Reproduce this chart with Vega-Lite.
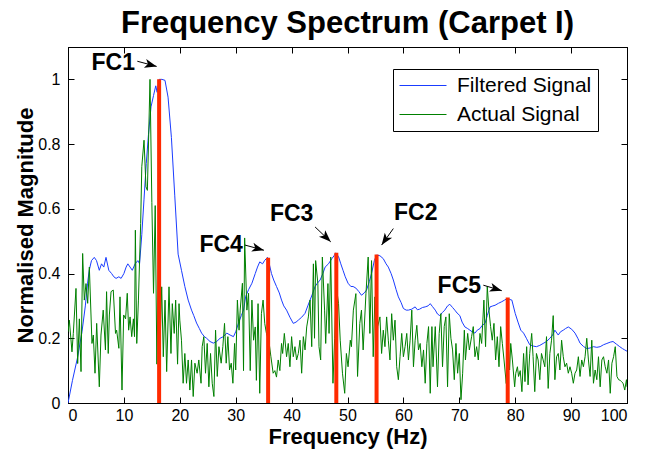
{
"$schema":"https://vega.github.io/schema/vega-lite/v6.json",
"width":559,"height":356,
"autosize":"none",
"padding":{"left":68,"top":47,"right":30,"bottom":53},
"background":"white",
"config":{"font":"Liberation Sans","view":{"stroke":"black","strokeWidth":1},
"axis":{"domainColor":"black","tickColor":"black","labelColor":"black","titleColor":"black","labelFont":"Liberation Sans","titleFont":"Liberation Sans","labelFontSize":16,"titleFontSize":22,"titleFontWeight":"bold","tickSize":-6,"grid":false,"domainWidth":1,"tickWidth":1}},
"title":{"text":"Frequency Spectrum (Carpet I)","fontSize":31,"fontWeight":"bold","color":"black","font":"Liberation Sans","offset":7,"anchor":"middle"},
"datasets":{
"filtered":[{"f":0,"v":0},{"f":0.8,"v":0.07},{"f":1.7,"v":0.14},{"f":2.5,"v":0.22},{"f":3.1,"v":0.3},{"f":3.5,"v":0.37},{"f":3.8,"v":0.41},{"f":4.2,"v":0.44},{"f":4.7,"v":0.45},{"f":5.1,"v":0.44},{"f":5.6,"v":0.41},{"f":6.0,"v":0.43},{"f":6.4,"v":0.42},{"f":6.8,"v":0.45},{"f":7.3,"v":0.41},{"f":7.8,"v":0.4},{"f":8.2,"v":0.39},{"f":8.6,"v":0.385},{"f":9.1,"v":0.39},{"f":9.5,"v":0.385},{"f":10.0,"v":0.4},{"f":10.4,"v":0.42},{"f":10.7,"v":0.43},{"f":11.1,"v":0.42},{"f":11.5,"v":0.41},{"f":12.0,"v":0.43},{"f":12.5,"v":0.44},{"f":12.8,"v":0.43},{"f":13.2,"v":0.52},{"f":13.6,"v":0.63},{"f":14.0,"v":0.74},{"f":14.4,"v":0.83},{"f":14.85,"v":0.915},{"f":15.3,"v":0.95},{"f":15.7,"v":0.98},{"f":15.95,"v":0.96},{"f":16.3,"v":1.0},{"f":16.8,"v":1.0},{"f":17.35,"v":0.997},{"f":17.9,"v":0.945},{"f":18.5,"v":0.82},{"f":19.1,"v":0.64},{"f":19.7,"v":0.46},{"f":20.3,"v":0.41},{"f":20.9,"v":0.36},{"f":21.5,"v":0.318},{"f":22.1,"v":0.287},{"f":22.5,"v":0.27},{"f":23.0,"v":0.247},{"f":23.5,"v":0.23},{"f":23.9,"v":0.216},{"f":24.4,"v":0.205},{"f":24.8,"v":0.2},{"f":25.4,"v":0.19},{"f":26.0,"v":0.185},{"f":26.6,"v":0.19},{"f":27.2,"v":0.2},{"f":27.8,"v":0.205},{"f":28.4,"v":0.216},{"f":29.0,"v":0.21},{"f":29.6,"v":0.205},{"f":30.0,"v":0.22},{"f":30.5,"v":0.247},{"f":31.0,"v":0.27},{"f":31.4,"v":0.287},{"f":31.8,"v":0.33},{"f":32.3,"v":0.35},{"f":32.9,"v":0.37},{"f":33.5,"v":0.4},{"f":33.9,"v":0.42},{"f":34.3,"v":0.436},{"f":34.8,"v":0.43},{"f":35.2,"v":0.441},{"f":35.7,"v":0.45},{"f":36.0,"v":0.43},{"f":36.4,"v":0.4},{"f":36.8,"v":0.38},{"f":37.3,"v":0.36},{"f":37.8,"v":0.34},{"f":38.2,"v":0.318},{"f":38.6,"v":0.3},{"f":39.1,"v":0.287},{"f":39.7,"v":0.265},{"f":40.3,"v":0.246},{"f":40.8,"v":0.25},{"f":41.2,"v":0.256},{"f":41.8,"v":0.265},{"f":42.4,"v":0.277},{"f":42.9,"v":0.3},{"f":43.3,"v":0.318},{"f":43.8,"v":0.34},{"f":44.2,"v":0.36},{"f":44.6,"v":0.37},{"f":45.1,"v":0.38},{"f":45.6,"v":0.4},{"f":46.0,"v":0.42},{"f":46.6,"v":0.43},{"f":47.2,"v":0.446},{"f":47.6,"v":0.455},{"f":47.9,"v":0.464},{"f":48.4,"v":0.452},{"f":48.8,"v":0.43},{"f":49.2,"v":0.41},{"f":49.6,"v":0.39},{"f":50.1,"v":0.37},{"f":50.6,"v":0.36},{"f":51.0,"v":0.36},{"f":51.5,"v":0.355},{"f":52.0,"v":0.345},{"f":52.5,"v":0.333},{"f":53.0,"v":0.34},{"f":53.4,"v":0.349},{"f":53.9,"v":0.375},{"f":54.3,"v":0.4},{"f":54.8,"v":0.44},{"f":55.2,"v":0.457},{"f":55.8,"v":0.455},{"f":56.4,"v":0.446},{"f":56.9,"v":0.43},{"f":57.3,"v":0.42},{"f":57.8,"v":0.4},{"f":58.2,"v":0.38},{"f":58.7,"v":0.35},{"f":59.1,"v":0.328},{"f":59.6,"v":0.31},{"f":60.0,"v":0.292},{"f":60.5,"v":0.287},{"f":60.9,"v":0.287},{"f":61.5,"v":0.29},{"f":62.1,"v":0.297},{"f":62.5,"v":0.288},{"f":62.9,"v":0.29},{"f":63.4,"v":0.295},{"f":63.9,"v":0.297},{"f":64.4,"v":0.3},{"f":64.8,"v":0.307},{"f":65.2,"v":0.298},{"f":65.7,"v":0.287},{"f":66.1,"v":0.275},{"f":66.5,"v":0.27},{"f":67.0,"v":0.28},{"f":67.4,"v":0.287},{"f":67.9,"v":0.3},{"f":68.3,"v":0.305},{"f":68.8,"v":0.295},{"f":69.2,"v":0.287},{"f":69.6,"v":0.278},{"f":70.1,"v":0.27},{"f":70.5,"v":0.25},{"f":71.0,"v":0.235},{"f":71.5,"v":0.23},{"f":71.9,"v":0.225},{"f":72.3,"v":0.22},{"f":72.8,"v":0.216},{"f":73.2,"v":0.225},{"f":73.7,"v":0.23},{"f":74.1,"v":0.24},{"f":74.6,"v":0.246},{"f":75.0,"v":0.27},{"f":75.5,"v":0.297},{"f":76.0,"v":0.3},{"f":76.4,"v":0.302},{"f":77.0,"v":0.308},{"f":77.6,"v":0.313},{"f":78.1,"v":0.318},{"f":78.6,"v":0.323},{"f":79.0,"v":0.32},{"f":79.4,"v":0.318},{"f":80.0,"v":0.277},{"f":80.5,"v":0.25},{"f":81.0,"v":0.225},{"f":81.5,"v":0.216},{"f":82.0,"v":0.2},{"f":82.6,"v":0.18},{"f":83.2,"v":0.176},{"f":83.8,"v":0.174},{"f":84.4,"v":0.178},{"f":85.0,"v":0.184},{"f":85.6,"v":0.19},{"f":86.2,"v":0.2},{"f":86.7,"v":0.21},{"f":87.1,"v":0.225},{"f":87.7,"v":0.21},{"f":88.1,"v":0.22},{"f":88.6,"v":0.225},{"f":89.0,"v":0.23},{"f":89.5,"v":0.235},{"f":90.1,"v":0.228},{"f":90.7,"v":0.216},{"f":91.2,"v":0.2},{"f":91.6,"v":0.185},{"f":92.2,"v":0.175},{"f":92.8,"v":0.168},{"f":93.4,"v":0.17},{"f":94.0,"v":0.174},{"f":94.6,"v":0.172},{"f":95.2,"v":0.174},{"f":95.8,"v":0.18},{"f":96.4,"v":0.184},{"f":97.0,"v":0.188},{"f":97.5,"v":0.19},{"f":98.1,"v":0.182},{"f":98.7,"v":0.174},{"f":99.2,"v":0.168},{"f":99.6,"v":0.164},{"f":100,"v":0.16}],
"actual":[{"f":0,"v":0.22},{"f":0.24,"v":0.256},{"f":0.71,"v":0.158},{"f":0.95,"v":0.215},{"f":1.43,"v":0.354},{"f":1.73,"v":0.122},{"f":2.03,"v":0.26},{"f":2.33,"v":0.097},{"f":2.62,"v":0.462},{"f":2.92,"v":0.318},{"f":3.22,"v":0.369},{"f":3.52,"v":0.308},{"f":3.82,"v":0.42},{"f":4.29,"v":0.184},{"f":4.53,"v":0.21},{"f":4.83,"v":0.092},{"f":5.13,"v":0.246},{"f":5.6,"v":0.05},{"f":5.9,"v":0.21},{"f":6.3,"v":0.287},{"f":6.7,"v":0.164},{"f":6.9,"v":0.344},{"f":7.2,"v":0.153},{"f":7.4,"v":0.272},{"f":7.7,"v":0.344},{"f":8.1,"v":0.349},{"f":8.5,"v":0.215},{"f":8.7,"v":0.225},{"f":9.1,"v":0.169},{"f":9.3,"v":0.328},{"f":9.66,"v":0.04},{"f":9.96,"v":0.272},{"f":10.3,"v":0.26},{"f":10.6,"v":0.339},{"f":10.85,"v":0.225},{"f":11.1,"v":0.266},{"f":11.4,"v":0.205},{"f":11.7,"v":0.26},{"f":11.9,"v":0.205},{"f":12.05,"v":0.534},{"f":12.3,"v":0.184},{"f":12.6,"v":0.318},{"f":13.0,"v":0.555},{"f":13.2,"v":0.73},{"f":13.6,"v":0.812},{"f":13.95,"v":0.668},{"f":14.2,"v":0.657},{"f":14.67,"v":1.0},{"f":15.0,"v":0.62},{"f":15.3,"v":0.339},{"f":15.6,"v":0.61},{"f":15.9,"v":0.12},{"f":16.2,"v":0.45},{"f":16.5,"v":0.2},{"f":16.76,"v":0.359},{"f":17.05,"v":0.143},{"f":17.36,"v":0.318},{"f":17.65,"v":0.097},{"f":18.07,"v":0.359},{"f":18.42,"v":0.153},{"f":18.66,"v":0.307},{"f":19.0,"v":0.215},{"f":19.26,"v":0.318},{"f":19.6,"v":0.12},{"f":19.86,"v":0.307},{"f":20.0,"v":0.256},{"f":20.3,"v":0.194},{"f":20.6,"v":0.061},{"f":20.9,"v":0.153},{"f":21.2,"v":0.061},{"f":21.5,"v":0.133},{"f":21.8,"v":0.04},{"f":22.1,"v":0.133},{"f":22.4,"v":0.02},{"f":22.7,"v":0.123},{"f":23.1,"v":0.092},{"f":23.4,"v":0.133},{"f":23.8,"v":0.061},{"f":24.0,"v":0.174},{"f":24.3,"v":0.205},{"f":24.6,"v":0.092},{"f":24.9,"v":0.184},{"f":25.2,"v":0.05},{"f":25.5,"v":0.153},{"f":25.8,"v":0.061},{"f":26.1,"v":0.02},{"f":26.4,"v":0.225},{"f":26.7,"v":0.082},{"f":27.0,"v":0.174},{"f":27.4,"v":0.123},{"f":27.7,"v":0.174},{"f":28.0,"v":0.246},{"f":28.3,"v":0.123},{"f":28.6,"v":0.205},{"f":28.9,"v":0.102},{"f":29.2,"v":0.123},{"f":29.5,"v":0.061},{"f":29.8,"v":0.184},{"f":30.0,"v":0.102},{"f":30.3,"v":0.318},{"f":30.6,"v":0.225},{"f":30.8,"v":0.287},{"f":31.2,"v":0.37},{"f":31.4,"v":0.1},{"f":31.6,"v":0.51},{"f":32.0,"v":0.287},{"f":32.3,"v":0.339},{"f":32.6,"v":0.1},{"f":32.9,"v":0.318},{"f":33.2,"v":0.194},{"f":33.5,"v":0.235},{"f":33.7,"v":0.07},{"f":34.0,"v":0.307},{"f":34.3,"v":0.03},{"f":34.6,"v":0.276},{"f":34.9,"v":0.318},{"f":35.2,"v":0.245},{"f":35.5,"v":0.215},{"f":35.95,"v":0.19},{"f":36.3,"v":0.143},{"f":36.7,"v":0.092},{"f":37.0,"v":0.1},{"f":37.3,"v":0.08},{"f":37.6,"v":0.133},{"f":37.9,"v":0.1},{"f":38.2,"v":0.184},{"f":38.4,"v":0.153},{"f":38.7,"v":0.215},{"f":39.1,"v":0.143},{"f":39.4,"v":0.184},{"f":39.7,"v":0.112},{"f":40.0,"v":0.205},{"f":40.3,"v":0.143},{"f":40.6,"v":0.174},{"f":40.9,"v":0.133},{"f":41.2,"v":0.153},{"f":41.5,"v":0.194},{"f":41.8,"v":0.092},{"f":42.1,"v":0.205},{"f":42.4,"v":0.164},{"f":42.7,"v":0.235},{"f":43.0,"v":0.266},{"f":43.3,"v":0.318},{"f":43.6,"v":0.174},{"f":43.9,"v":0.43},{"f":44.1,"v":0.2},{"f":44.3,"v":0.44},{"f":44.7,"v":0.369},{"f":44.9,"v":0.174},{"f":45.2,"v":0.133},{"f":45.5,"v":0.451},{"f":45.9,"v":0.287},{"f":46.1,"v":0.184},{"f":46.5,"v":0.369},{"f":46.7,"v":0.215},{"f":47.0,"v":0.451},{"f":47.4,"v":0.061},{"f":47.7,"v":0.2},{"f":48.0,"v":0.36},{"f":48.4,"v":0.307},{"f":48.7,"v":0.194},{"f":49.1,"v":0.092},{"f":49.5,"v":0.03},{"f":49.8,"v":0.153},{"f":50.1,"v":0.112},{"f":50.5,"v":0.194},{"f":50.7,"v":0.174},{"f":51.05,"v":0.287},{"f":51.5,"v":0.338},{"f":51.8,"v":0.082},{"f":52.2,"v":0.246},{"f":52.5,"v":0.287},{"f":52.8,"v":0.164},{"f":53.3,"v":0.338},{"f":53.7,"v":0.451},{"f":54.0,"v":0.215},{"f":54.3,"v":0.44},{"f":54.6,"v":0.143},{"f":54.9,"v":0.328},{"f":55.2,"v":0.1},{"f":55.4,"v":0.236},{"f":55.8,"v":0.266},{"f":56.1,"v":0.153},{"f":56.4,"v":0.225},{"f":56.7,"v":0.174},{"f":57.0,"v":0.266},{"f":57.3,"v":0.194},{"f":57.6,"v":0.133},{"f":57.9,"v":0.276},{"f":58.2,"v":0.194},{"f":58.5,"v":0.256},{"f":58.8,"v":0.112},{"f":59.1,"v":0.072},{"f":59.4,"v":0.143},{"f":59.7,"v":0.215},{"f":60.0,"v":0.143},{"f":60.3,"v":0.174},{"f":60.6,"v":0.215},{"f":60.9,"v":0.133},{"f":61.2,"v":0.194},{"f":61.5,"v":0.287},{"f":61.8,"v":0.112},{"f":62.1,"v":0.194},{"f":62.4,"v":0.24},{"f":62.7,"v":0.164},{"f":63.0,"v":0.184},{"f":63.3,"v":0.112},{"f":63.6,"v":0.164},{"f":63.9,"v":0.061},{"f":64.2,"v":0.184},{"f":64.5,"v":0.236},{"f":64.8,"v":0.03},{"f":65.1,"v":0.236},{"f":65.3,"v":0.112},{"f":65.7,"v":0.236},{"f":66.1,"v":0.05},{"f":66.4,"v":0.215},{"f":66.7,"v":0.276},{"f":67.0,"v":0.112},{"f":67.3,"v":0.236},{"f":67.6,"v":0.266},{"f":67.9,"v":0.05},{"f":68.2,"v":0.276},{"f":68.5,"v":0.2},{"f":68.8,"v":0.164},{"f":69.1,"v":0.072},{"f":69.4,"v":0.184},{"f":69.7,"v":0.092},{"f":70.0,"v":0.153},{"f":70.3,"v":0.01},{"f":70.6,"v":0.092},{"f":70.9,"v":0.225},{"f":71.1,"v":0.133},{"f":71.5,"v":0.215},{"f":71.8,"v":0.164},{"f":72.2,"v":0.205},{"f":72.5,"v":0.236},{"f":72.8,"v":0.143},{"f":73.1,"v":0.174},{"f":73.4,"v":0.133},{"f":73.7,"v":0.215},{"f":74.0,"v":0.184},{"f":74.4,"v":0.318},{"f":74.7,"v":0.174},{"f":75.0,"v":0.36},{"f":75.3,"v":0.287},{"f":75.6,"v":0.236},{"f":75.9,"v":0.194},{"f":76.2,"v":0.246},{"f":76.5,"v":0.133},{"f":76.8,"v":0.205},{"f":77.1,"v":0.112},{"f":77.4,"v":0.236},{"f":77.7,"v":0.184},{"f":78.0,"v":0.133},{"f":78.4,"v":0.06},{"f":78.7,"v":0.2},{"f":79.0,"v":0.102},{"f":79.2,"v":0.184},{"f":79.5,"v":0.133},{"f":79.9,"v":0.05},{"f":80.1,"v":0.092},{"f":80.4,"v":0.112},{"f":80.6,"v":0.082},{"f":80.9,"v":0.1},{"f":81.2,"v":0.035},{"f":81.5,"v":0.153},{"f":81.75,"v":0.066},{"f":82.05,"v":0.174},{"f":82.3,"v":0.056},{"f":82.6,"v":0.153},{"f":82.95,"v":0.215},{"f":83.2,"v":0.143},{"f":83.5,"v":0.035},{"f":83.8,"v":0.153},{"f":84.1,"v":0.133},{"f":84.4,"v":0.072},{"f":84.7,"v":0.153},{"f":85.0,"v":0.133},{"f":85.3,"v":0.112},{"f":85.6,"v":0.205},{"f":85.9,"v":0.045},{"f":86.2,"v":0.153},{"f":86.5,"v":0.194},{"f":86.8,"v":0.27},{"f":87.1,"v":0.072},{"f":87.4,"v":0.143},{"f":87.7,"v":0.153},{"f":88.0,"v":0.102},{"f":88.3,"v":0.194},{"f":88.6,"v":0.143},{"f":88.9,"v":0.112},{"f":89.2,"v":0.123},{"f":89.5,"v":0.092},{"f":89.8,"v":0.112},{"f":90.1,"v":0.092},{"f":90.4,"v":0.061},{"f":90.7,"v":0.092},{"f":91.0,"v":0.102},{"f":91.3,"v":0.143},{"f":91.6,"v":0.082},{"f":91.9,"v":0.133},{"f":92.2,"v":0.112},{"f":92.5,"v":0.143},{"f":92.8,"v":0.2},{"f":93.1,"v":0.133},{"f":93.4,"v":0.082},{"f":93.7,"v":0.194},{"f":94.0,"v":0.061},{"f":94.3,"v":0.102},{"f":94.6,"v":0.072},{"f":94.9,"v":0.143},{"f":95.2,"v":0.05},{"f":95.5,"v":0.133},{"f":95.8,"v":0.143},{"f":96.1,"v":0.112},{"f":96.4,"v":0.092},{"f":96.7,"v":0.133},{"f":97.0,"v":0.03},{"f":97.3,"v":0.123},{"f":97.6,"v":0.143},{"f":97.9,"v":0.174},{"f":98.2,"v":0.082},{"f":98.5,"v":0.072},{"f":98.8,"v":0.07},{"f":99.0,"v":0.066},{"f":99.3,"v":0.061},{"f":99.6,"v":0.04},{"f":99.9,"v":0.072},{"f":100,"v":0.05}],
"fc":[{"label":"FC1","f":16.3,"v":1.0,"z":0},{"label":"FC4","f":35.8,"v":0.449,"z":0},{"label":"FC3","f":48.0,"v":0.464,"z":0},{"label":"FC2","f":55.2,"v":0.459,"z":0},{"label":"FC5","f":78.66,"v":0.326,"z":0}],
"notes":[{"label":"FC1","lf":8.1,"lv":1.052,"tf":12.4,"tv":1.056,"hf":15.86,"hv":1.04,"a":15},{"label":"FC4","lf":27.4,"lv":0.488,"tf":31.66,"tv":0.488,"hf":35.05,"hv":0.472,"a":15},{"label":"FC3","lf":40.0,"lv":0.585,"tf":44.2,"tv":0.544,"hf":47.0,"hv":0.498,"a":44},{"label":"FC2","lf":62.2,"lv":0.586,"tf":58.2,"tv":0.539,"hf":56.1,"hv":0.488,"a":125},{"label":"FC5","lf":70.0,"lv":0.361,"tf":74.3,"tv":0.364,"hf":77.6,"hv":0.347,"a":17}]
},
"layer":[
{"data":{"name":"filtered"},"mark":{"type":"line","strokeWidth":1,"clip":true},
"encoding":{
"x":{"field":"f","type":"quantitative","scale":{"domain":[0,100],"nice":false},"axis":{"orient":"bottom","values":[0,10,20,30,40,50,60,70,80,90,100],"title":"Frequency (Hz)","labelPadding":10,"titlePadding":3}},
"y":{"field":"v","type":"quantitative","scale":{"domain":[0,1.1],"nice":false},"axis":{"orient":"left","values":[0,0.2,0.4,0.6,0.8,1],"format":"~g","title":"Normalised Magnitude","labelPadding":14,"titlePadding":0}},
"color":{"datum":"Filtered Signal","type":"nominal","scale":{"domain":["Filtered Signal","Actual Signal"],"range":["#1a3cff","#008000"]},
"legend":{"orient":"none","legendX":325,"legendY":22,"title":null,"fillColor":"white","strokeColor":"black","padding":6,"labelFontSize":21,"labelFont":"Liberation Sans","labelColor":"black","symbolType":"M-1,0H3.7","symbolSize":400,"symbolStrokeWidth":1,"labelOffset":37,"rowPadding":7}}}},
{"data":{"name":"actual"},"mark":{"type":"line","strokeWidth":1,"clip":true},
"encoding":{
"x":{"field":"f","type":"quantitative","axis":{"orient":"top","values":[0,10,20,30,40,50,60,70,80,90,100],"labels":false,"title":null}},
"y":{"field":"v","type":"quantitative","axis":{"orient":"right","values":[0,0.2,0.4,0.6,0.8,1],"labels":false,"title":null}},
"color":{"datum":"Actual Signal","type":"nominal"}}},
{"data":{"name":"fc"},"mark":{"type":"rule","color":"#ff2a00","strokeWidth":4},
"encoding":{"x":{"field":"f","type":"quantitative","axis":null},"y":{"field":"v","type":"quantitative","axis":null},"y2":{"field":"z"}}},
{"data":{"name":"notes"},"mark":{"type":"rule","color":"black","strokeWidth":1},
"encoding":{"x":{"field":"tf","type":"quantitative","axis":null},"y":{"field":"tv","type":"quantitative","axis":null},"x2":{"field":"hf"},"y2":{"field":"hv"}}},
{"data":{"name":"notes"},"mark":{"type":"point","shape":"M0,0L-2,-0.75L-1.5,0L-2,0.75Z","filled":true,"color":"black","size":144,"opacity":1},
"encoding":{"x":{"field":"hf","type":"quantitative","axis":null},"y":{"field":"hv","type":"quantitative","axis":null},"angle":{"field":"a","type":"quantitative","scale":null}}},
{"data":{"name":"notes"},"mark":{"type":"text","fontSize":23,"fontWeight":"bold","font":"Liberation Sans","color":"black","align":"center","baseline":"middle"},
"encoding":{"x":{"field":"lf","type":"quantitative","axis":null},"y":{"field":"lv","type":"quantitative","axis":null},"text":{"field":"label"}}}
],
"resolve":{"axis":{"x":"independent","y":"independent"}}
}
